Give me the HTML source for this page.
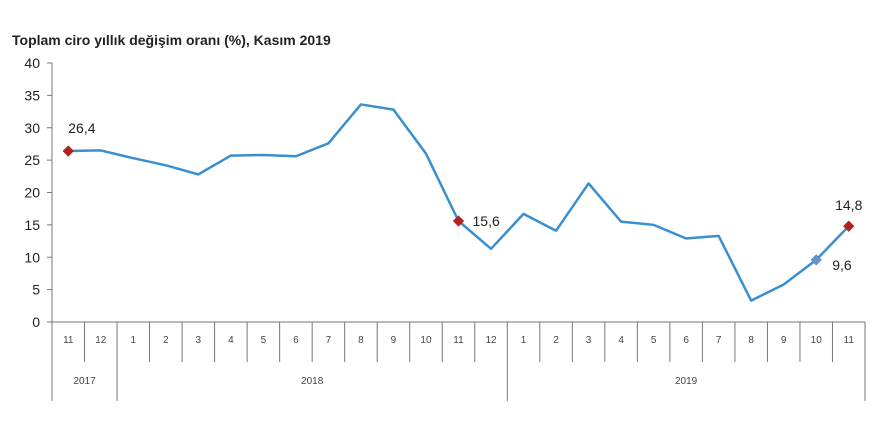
<!DOCTYPE html>
<html><head><meta charset="utf-8"><style>
body{margin:0;background:#fff;width:880px;height:440px;overflow:hidden;font-family:"Liberation Sans",sans-serif}
svg text{font-family:"Liberation Sans",sans-serif}
</style></head><body>
<svg width="880" height="440">
<text x="12" y="45" font-size="14" font-weight="bold" fill="#222">Toplam ciro yıllık değişim oranı (%), Kasım 2019</text>
<g id="ax"></g>
<g id="marks"></g>
</svg>
<script>
const months=["11","12","1","2","3","4","5","6","7","8","9","10","11","12","1","2","3","4","5","6","7","8","9","10","11"];
const values=[26.4,26.5,25.3,24.2,22.8,25.7,25.8,25.6,27.6,33.6,32.8,26.0,15.6,11.3,16.7,14.1,21.4,15.5,15.0,12.9,13.3,3.3,5.8,9.6,14.8];
const yTicks=[0,5,10,15,20,25,30,35,40];
const years=[{label:"2017",start:0,end:2},{label:"2018",start:2,end:14},{label:"2019",start:14,end:25}];
const highlights=[{i:0,label:"26,4",color:"#b22222",dx:0,dy:-18,anchor:"start"},{i:12,label:"15,6",color:"#b22222",dx:14,dy:5,anchor:"start"},{i:23,label:"9,6",color:"#6a8fc9",dx:16,dy:10,anchor:"start"},{i:24,label:"14,8",color:"#b22222",dx:0,dy:-16,anchor:"middle"}];
const L=52,R=865,T=63,B=322,cw=(R-L)/months.length;
const X=i=>L+cw*(i+0.5), Y=v=>B-(v/40)*(B-T);
const NS="http://www.w3.org/2000/svg";
function mk(p,t,a){const e=document.createElementNS(NS,t);for(const k in a)e.setAttribute(k,a[k]);p.appendChild(e);return e;}
const ax=document.getElementById('ax'),mg=document.getElementById('marks');
let l=mk(ax,'line',{x1:L,y1:T,x2:L,y2:B,stroke:'#777'});


l=mk(ax,'line',{x1:L-5,y1:B,x2:R,y2:B,stroke:'#777'});


yTicks.forEach(v=>{const t=mk(ax,'text',{x:40,y:Y(v)+5,'text-anchor':'end','font-size':14,fill:'#222'});t.textContent=v;


mk(ax,'line',{x1:L-5,y1:Y(v),x2:L,y2:Y(v),stroke:'#777'});});
const yb=new Set(years.map(y=>y.start).concat([months.length]));
for(let i=0;i<=months.length;i++){const x=L+cw*i;mk(ax,'line',{x1:x,y1:B,x2:x,y2:yb.has(i)?401:362,stroke:'#777'});}
months.forEach((m,i)=>{const t=mk(ax,'text',{x:X(i),y:343,'text-anchor':'middle','font-size':10,fill:'#444'});t.textContent=m;

});
years.forEach(y=>{const t=mk(ax,'text',{x:L+cw*(y.start+y.end)/2,y:384,'text-anchor':'middle','font-size':10,fill:'#444'});t.textContent=y.label;

});
const ln=mk(mg,'polyline',{points:values.map((v,i)=>X(i)+','+Y(v)).join(' '),fill:'none',stroke:'#3a8fd0','stroke-width':2.5,'stroke-linejoin':'round'});


highlights.forEach(h=>{const x=X(h.i),y=Y(values[h.i]);
const d=mk(mg,'rect',{x:x-4,y:y-4,width:8,height:8,fill:h.color,transform:`rotate(45 ${x} ${y})`});


const t=mk(mg,'text',{x:x+h.dx,y:y+h.dy,'text-anchor':h.anchor,'font-size':14,fill:'#222'});t.textContent=h.label;

});
</script>
</body></html>
